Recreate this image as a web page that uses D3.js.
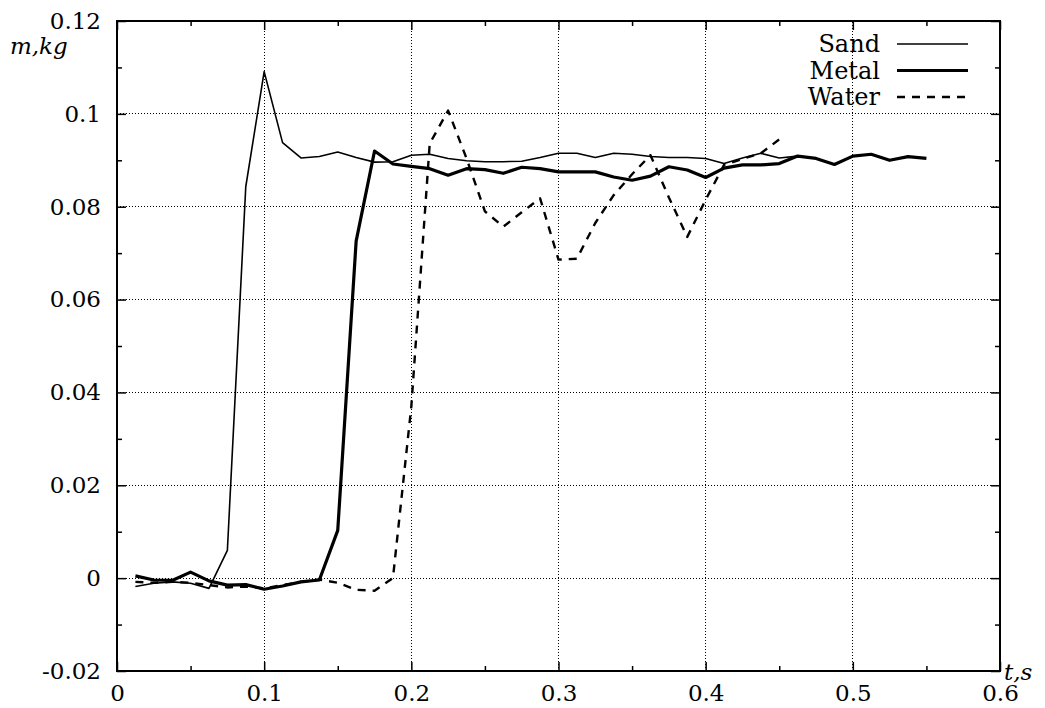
<!DOCTYPE html>
<html>
<head>
<meta charset="utf-8">
<script src="https://cdn.jsdelivr.net/npm/d3@7"></script>
<style>
  body { margin: 0; background: #fff; }
  svg { display: block; }
  text { font-family: "DejaVu Serif", serif; fill: #000; }
</style>
</head>
<body>
<div id="chart"></div>
<script>
// sample times, every 0.0125 s
const step = 0.0125;

const sand = [-0.0018, -0.0011, -0.0008, -0.0011, -0.0022, 0.006, 0.0843, 0.1091,
  0.0938, 0.0905, 0.0908, 0.0918, 0.0906, 0.0896, 0.0897, 0.0911, 0.0913, 0.0904,
  0.0899, 0.0897, 0.0897, 0.0898, 0.0906, 0.0915, 0.0915, 0.0906, 0.0915, 0.0913,
  0.0908, 0.0906, 0.0906, 0.0904, 0.0893, 0.0905, 0.0915, 0.0905, 0.0909];

const metal = [0.0005, -0.0004, -0.0005, 0.0013, -0.0006, -0.0015, -0.0014, -0.0024,
  -0.0017, -0.0008, -0.0004, 0.0103, 0.0726, 0.092, 0.0892, 0.0887, 0.0882, 0.0868,
  0.0882, 0.088, 0.0872, 0.0885, 0.0882, 0.0875, 0.0875, 0.0875, 0.0864, 0.0857,
  0.0866, 0.0886, 0.0879, 0.0863, 0.0883, 0.089, 0.089, 0.0893, 0.0909, 0.0904,
  0.0891, 0.0909, 0.0913, 0.09, 0.0908, 0.0904];

const water = [-0.0008, -0.001, -0.0008, -0.001, -0.0015, -0.002, -0.0018, -0.0022,
  -0.0015, -0.0008, -0.0003, -0.001, -0.0025, -0.0027, 0.0, 0.037, 0.0936, 0.1007,
  0.0904, 0.079, 0.0757, 0.0788, 0.0818, 0.0686, 0.0688, 0.0765, 0.0825, 0.087,
  0.0911, 0.082, 0.0735, 0.0815, 0.089, 0.0903, 0.0915, 0.0945];

const xTicks = [0, 0.1, 0.2, 0.3, 0.4, 0.5, 0.6];
const yTicks = [-0.02, 0, 0.02, 0.04, 0.06, 0.08, 0.1, 0.12];
const xMinor = [0.05, 0.15, 0.25, 0.35, 0.45, 0.55];
const yMinor = [-0.01, 0.01, 0.03, 0.05, 0.07, 0.09, 0.11];

const series = [
  { name: "Sand", values: sand, width: 1.6, dash: null },
  { name: "Metal", values: metal, width: 3.2, dash: null },
  { name: "Water", values: water, width: 2.4, dash: "8,7" }
];

const width = 1045, height = 708;
const margin = { top: 21, right: 45, bottom: 37, left: 117 };

const x = d3.scaleLinear().domain([0, 0.6]).range([margin.left, width - margin.right]);
const y = d3.scaleLinear().domain([-0.02, 0.12]).range([height - margin.bottom, margin.top]);

const fmt = (d) => String(+d.toFixed(2));

const svg = d3.select("#chart").append("svg")
  .attr("width", width)
  .attr("height", height);

// grid
const grid = svg.append("g").attr("stroke", "#000").attr("stroke-width", 1)
  .attr("stroke-dasharray", "1,2").attr("shape-rendering", "crispEdges");
grid.selectAll(".gx").data(xTicks.filter((d) => d > 0 && d < 0.6)).enter().append("line")
  .attr("x1", (d) => x(d)).attr("x2", (d) => x(d))
  .attr("y1", y(-0.02)).attr("y2", y(0.12));
grid.selectAll(".gy").data(yTicks.filter((d) => d > -0.02 && d < 0.12)).enter().append("line")
  .attr("x1", x(0)).attr("x2", x(0.6))
  .attr("y1", (d) => y(d)).attr("y2", (d) => y(d));

// curves
const line = d3.line()
  .x((d, i) => x((i + 1) * step))
  .y((d) => y(d));

svg.selectAll(".curve").data(series).enter().append("path")
  .attr("class", "curve")
  .attr("d", (d) => line(d.values))
  .attr("fill", "none")
  .attr("stroke", "#000")
  .attr("stroke-width", (d) => d.width)
  .attr("stroke-linejoin", "round")
  .attr("stroke-dasharray", (d) => d.dash);

// axes, ticks pointing inward on all four sides
function styleAxis(g) {
  g.select(".domain").remove();
  g.selectAll(".tick line").attr("stroke", "#000").attr("stroke-width", 1.5);
  g.selectAll("text").style("font-size", "23px").attr("fill", "#000");
}

svg.append("g").attr("transform", `translate(${x(0)},0)`)
  .call(d3.axisLeft(y).tickValues(yTicks).tickSize(-9).tickPadding(16).tickFormat(fmt))
  .call(styleAxis);
svg.append("g").attr("transform", `translate(${x(0)},0)`)
  .call(d3.axisLeft(y).tickValues(yMinor).tickSize(-5).tickFormat(""))
  .call(styleAxis);
svg.append("g").attr("transform", `translate(${x(0.6)},0)`)
  .call(d3.axisRight(y).tickValues(yTicks).tickSize(-9).tickFormat(""))
  .call(styleAxis);
svg.append("g").attr("transform", `translate(${x(0.6)},0)`)
  .call(d3.axisRight(y).tickValues(yMinor).tickSize(-5).tickFormat(""))
  .call(styleAxis);
svg.append("g").attr("transform", `translate(0,${y(-0.02)})`)
  .call(d3.axisBottom(x).tickValues(xTicks).tickSize(-9).tickPadding(14).tickFormat(fmt))
  .call(styleAxis);
svg.append("g").attr("transform", `translate(0,${y(-0.02)})`)
  .call(d3.axisBottom(x).tickValues(xMinor).tickSize(-5).tickFormat(""))
  .call(styleAxis);
svg.append("g").attr("transform", `translate(0,${y(0.12)})`)
  .call(d3.axisTop(x).tickValues(xTicks).tickSize(-9).tickFormat(""))
  .call(styleAxis);
svg.append("g").attr("transform", `translate(0,${y(0.12)})`)
  .call(d3.axisTop(x).tickValues(xMinor).tickSize(-5).tickFormat(""))
  .call(styleAxis);

// frame
svg.append("rect")
  .attr("x", x(0)).attr("y", y(0.12))
  .attr("width", x(0.6) - x(0)).attr("height", y(-0.02) - y(0.12))
  .attr("fill", "none").attr("stroke", "#000").attr("stroke-width", 2);

// axis titles
svg.append("text").attr("x", 10).attr("y", 54)
  .style("font-size", "23px").style("font-style", "italic").text("m,kg");
svg.append("text").attr("x", 1004).attr("y", 680)
  .style("font-size", "23px").style("font-style", "italic").text("t,s");

// legend
const legend = svg.append("g");
const rows = legend.selectAll("g").data(series).enter().append("g")
  .attr("transform", (d, i) => `translate(0,${44 + i * 26.5})`);
rows.append("text")
  .attr("x", 880).attr("dy", "0.35em")
  .attr("text-anchor", "end")
  .style("font-size", "24px")
  .text((d) => d.name);
rows.append("line")
  .attr("x1", 897).attr("x2", 968)
  .attr("stroke", "#000")
  .attr("stroke-width", (d) => d.width)
  .attr("stroke-dasharray", (d) => d.dash);
</script>
</body>
</html>
